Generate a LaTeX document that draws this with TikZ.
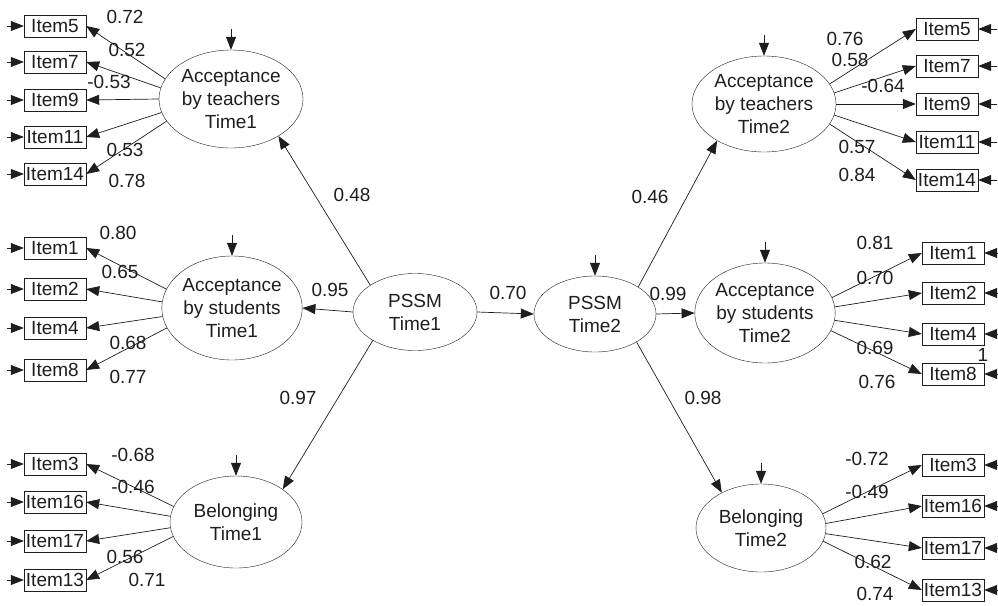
\documentclass[tikz,border=0pt]{standalone}
\usepackage{fontspec}
\setmainfont{Liberation Sans}
\usetikzlibrary{shapes.geometric,arrows.meta,calc}
\definecolor{ink}{HTML}{1E1E1E}
\tikzset{
  itembox/.style={draw=ink, minimum width=62pt, minimum height=22pt, inner sep=0pt},
  lat/.style={draw=ink, ellipse, inner sep=0pt, align=center},
  arr/.style={-{Triangle[length=13pt,width=10pt]}, line width=0.7pt, draw=ink},
  lbl/.style={inner sep=0pt},
}
\begin{document}
\begin{tikzpicture}[x=1pt,y=-1pt,font=\fontsize{19}{23}\selectfont, text=ink]
\useasboundingbox (0,0) rectangle (998,605);
% latent ellipses
\node[lat, minimum width=144pt, minimum height=98pt] (at1) at (231,99) {Acceptance\\by teachers\\Time1};
\node[lat, minimum width=140pt, minimum height=104pt] (as1) at (232,308) {Acceptance\\by students\\Time1};
\node[lat, minimum width=132pt, minimum height=92pt] (bel1) at (236,522) {Belonging\\Time1};
\node[lat, minimum width=124pt, minimum height=77pt] (p1) at (415,312) {PSSM\\Time1};
\node[lat, minimum width=122pt, minimum height=76pt] (p2) at (595,314) {PSSM\\Time2};
\node[lat, minimum width=144pt, minimum height=96pt] (at2) at (764,104) {Acceptance\\by teachers\\Time2};
\node[lat, minimum width=140pt, minimum height=100pt] (as2) at (765,313) {Acceptance\\by students\\Time2};
\node[lat, minimum width=130pt, minimum height=88pt] (bel2) at (761,528) {Belonging\\Time2};
% left items
\node[itembox] (a5) at (55,26) {Item5};
\node[itembox] (a7) at (55,62) {Item7};
\node[itembox] (a9) at (55,100) {Item9};
\node[itembox] (a11) at (55,137) {Item11};
\node[itembox] (a14) at (55,174) {Item14};
\node[itembox] (b1) at (55,248) {Item1};
\node[itembox] (b2) at (55,289) {Item2};
\node[itembox] (b4) at (55,328) {Item4};
\node[itembox] (b8) at (55,370) {Item8};
\node[itembox] (c3) at (55,464) {Item3};
\node[itembox] (c16) at (55,502) {Item16};
\node[itembox] (c17) at (55,541) {Item17};
\node[itembox] (c13) at (55,580) {Item13};
% right items
\node[itembox] (d5) at (947,29) {Item5};
\node[itembox] (d7) at (947,66) {Item7};
\node[itembox] (d9) at (947,104) {Item9};
\node[itembox] (d11) at (947,142) {Item11};
\node[itembox] (d14) at (947,180) {Item14};
\node[itembox] (e1) at (953,253) {Item1};
\node[itembox] (e2) at (953,293) {Item2};
\node[itembox] (e4) at (953,334) {Item4};
\node[itembox] (e8) at (953,374) {Item8};
\node[itembox] (f3) at (953,465) {Item3};
\node[itembox] (f16) at (953,506) {Item16};
\node[itembox] (f17) at (953,548) {Item17};
\node[itembox] (f13) at (953,590) {Item13};
% error arrows into items
\foreach \n in {a5,a7,a9,a11,a14,b1,b2,b4,b8,c3,c16,c17,c13}{
  \coordinate (\n e) at (7,0 |- \n.west);
  \draw[arr] (\n e) -- (\n.west);
}
\foreach \n in {d5,d7,d9,d11,d14,e1,e2,e4,e8,f3,f16,f17,f13}{
  \coordinate (\n e) at (997,0 |- \n.east);
  \draw[arr] (\n e) -- (\n.east);
}
% disturbance arrows into latents
\foreach \n in {at1,as1,bel1,p2,at2,as2,bel2}{
  \coordinate (\n d) at ($(\n.north)+(0,-21)$);
  \draw[arr] (\n d) -- (\n.north);
}
% loadings left
\draw[arr] (at1.163.6) -- (a5.east);
\draw[arr] (at1.171) -- (a7.east);
\draw[arr] (at1.180) -- (a9.east);
\draw[arr] (at1.191) -- (a11.east);
\draw[arr] (at1.199) -- (a14.east);
\draw[arr] (as1.164.5) -- (b1.east);
\draw[arr] (as1.175) -- (b2.east);
\draw[arr] (as1.187) -- (b4.east);
\draw[arr] (as1.197) -- (b8.east);
\draw[arr] (bel1.166.6) -- (c3.east);
\draw[arr] (bel1.175.6) -- (c16.east);
\draw[arr] (bel1.185) -- (c17.east);
\draw[arr] (bel1.193) -- (c13.east);
% loadings right
\draw[arr] (at2.17) -- (d5.west);
\draw[arr] (at2.9) -- (d7.west);
\draw[arr] (at2.0) -- (d9.west);
\draw[arr] (at2.351) -- (d11.west);
\draw[arr] (at2.343) -- (d14.west);
\draw[arr] (as2.13.4) -- (e1.west);
\draw[arr] (as2.5) -- (e2.west);
\draw[arr] (as2.354.3) -- (e4.west);
\draw[arr] (as2.345) -- (e8.west);
\draw[arr] (bel2.13) -- (f3.west);
\draw[arr] (bel2.4.3) -- (f16.west);
\draw[arr] (bel2.355.7) -- (f17.west);
\draw[arr] (bel2.348) -- (f13.west);
% structural paths
\draw[arr] (p1.149) -- (at1.322);
\draw[arr] (p1.west) -- (as1.east);
\draw[arr] (p1.214.6) -- (bel1.35.5);
\draw[arr] (p1.east) -- (p2.west);
\draw[arr] (p2.32) -- (at2.218);
\draw[arr] (p2.east) -- (as2.west);
\draw[arr] (p2.326) -- (bel2.138);
% labels
\node[lbl] (l1) at (125,17) {0.72};
\node[lbl] (l2) at (127,50) {0.52};
\node[lbl] (l3) at (109,82) {-0.53};
\node[lbl] (l4) at (125,150) {0.53};
\node[lbl] (l5) at (127,181) {0.78};
\node[lbl] (l6) at (118,233) {0.80};
\node[lbl] (l7) at (120,272) {0.65};
\node[lbl] (l8) at (128,343) {0.68};
\node[lbl] (l9) at (128,377) {0.77};
\node[lbl] (l10) at (133,455) {-0.68};
\node[lbl] (l11) at (133,487) {-0.46};
\node[lbl] (l12) at (125,557) {0.56};
\node[lbl] (l13) at (147,580) {0.71};
\node[lbl] (l14) at (352,195) {0.48};
\node[lbl] (l15) at (330,290) {0.95};
\node[lbl] (l16) at (298,398) {0.97};
\node[lbl] (l17) at (508,293) {0.70};
\node[lbl] (l18) at (650,197) {0.46};
\node[lbl] (l19) at (668,294) {0.99};
\node[lbl] (l20) at (703,398) {0.98};
\node[lbl] (l21) at (845,39) {0.76};
\node[lbl] (l22) at (850,60) {0.58};
\node[lbl] (l23) at (883,86) {-0.64};
\node[lbl] (l24) at (857,147) {0.57};
\node[lbl] (l25) at (857,175) {0.84};
\node[lbl] (l26) at (875,243) {0.81};
\node[lbl] (l27) at (875,278) {0.70};
\node[lbl] (l28) at (875,348) {0.69};
\node[lbl] (l29) at (877,382) {0.76};
\node[lbl] (l30) at (983,355) {1};
\node[lbl] (l31) at (867,459) {-0.72};
\node[lbl] (l32) at (867,492) {-0.49};
\node[lbl] (l33) at (873,562) {0.62};
\node[lbl] (l34) at (875,594) {0.74};
\end{tikzpicture}
\end{document}
